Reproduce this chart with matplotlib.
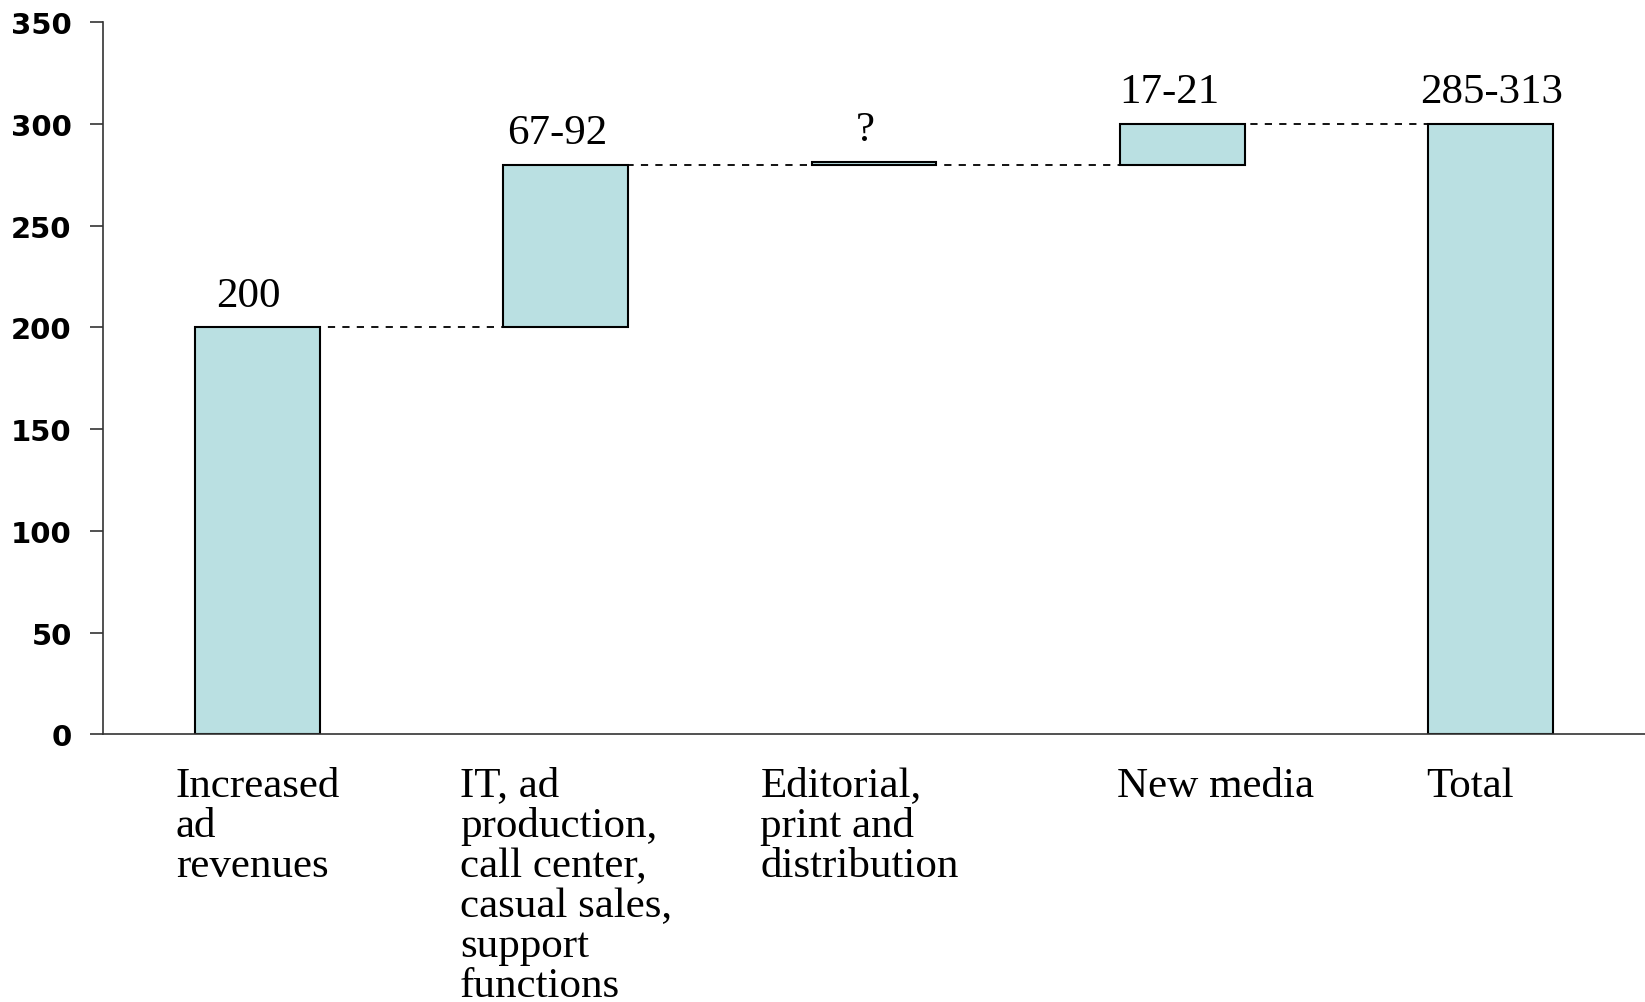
import matplotlib
matplotlib.use("Agg")
import matplotlib.pyplot as plt

categories = ["Increased\nad\nrevenues",
              "IT, ad\nproduction,\ncall center,\ncasual sales,\nsupport\nfunctions",
              "Editorial,\nprint and\ndistribution",
              "New media",
              "Total"]
bar_bottoms = [0, 200, 280, 280, 0]
bar_heights = [200, 80, 1.5, 20, 300]
value_labels = ["200", "67-92", "?", "17-21", "285-313"]
y_ticks = [0, 50, 100, 150, 200, 250, 300, 350]

# layout
label_x_offsets = [-0.264, -0.342, -0.368, -0.213, -0.21]
value_label_shifts = [-0.029, -0.026, -0.027, -0.043, 0.002]
connectors = [  # (level, x_start, x_end)
    (200, 0.135, 0.94),
    (280, 1.15, 3.07),
    (300, 3.08, 3.88),
]

fig = plt.figure(figsize=(16.45, 10.03), dpi=100)
ax = fig.add_axes([0.0626, 0.2667, 0.9374, 0.7103])

x = list(range(len(categories)))
ax.bar(x, bar_heights, bottom=bar_bottoms, width=0.405,
       color="#BAE0E2", edgecolor="black", linewidth=1.5, zorder=2)

for lvl, xs, xe in connectors:
    ax.plot([xs, xe], [lvl, lvl], color="black", linestyle=(0, (4, 4)),
            linewidth=1.3, zorder=3)

for xi, sh, b, h, lab in zip(x, value_label_shifts, bar_bottoms, bar_heights, value_labels):
    ax.annotate(lab, (xi + sh, b + h), xytext=(0, 9), textcoords="offset points",
                ha="center", va="bottom", fontsize=31, family="Liberation Serif")

for xi, off, cat in zip(x, label_x_offsets, categories):
    ax.text(xi + off, -15.5, cat, ha="left", va="top", fontsize=31,
            family="Liberation Serif", linespacing=1.05)

ax.set_xlim(-0.5, 4.5)
ax.set_ylim(0, 350)
ax.set_yticks(y_ticks)
ax.set_yticklabels([str(t) for t in y_ticks], fontsize=21, fontweight="bold",
                   family="DejaVu Sans")
ax.tick_params(axis="y", direction="out", length=9.5, width=1.2, pad=13, color="#333333")
ax.set_xticks([])
for s in ["top", "right"]:
    ax.spines[s].set_visible(False)
ax.spines["left"].set_color("#333333")
ax.spines["bottom"].set_color("#333333")
ax.spines["left"].set_linewidth(1.2)
ax.spines["bottom"].set_linewidth(1.2)

fig.savefig("out.png", dpi=100)
